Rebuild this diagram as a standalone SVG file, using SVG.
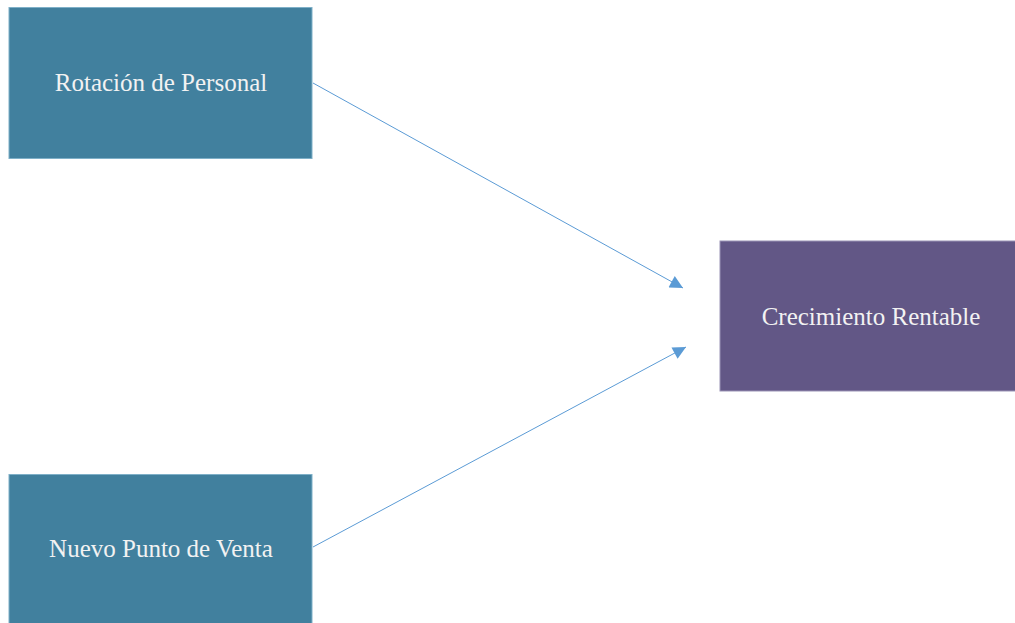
<svg xmlns="http://www.w3.org/2000/svg" width="1015" height="623" viewBox="0 0 1015 623">
<style>
.box{fill:#41809e;stroke:#7fb0c8;stroke-width:1}
.pbox{fill:#625786;stroke:#9a93b5;stroke-width:1}
.lbl{font-family:"Liberation Serif","Times New Roman",serif;font-size:25px;fill:#f2f2f2;text-anchor:middle}
.conn{stroke:#5b9bd5;stroke-width:1;fill:none}
</style>
<defs>
<marker id="ah" viewBox="0 0 10 10" refX="10" refY="5" markerWidth="15" markerHeight="13" markerUnits="userSpaceOnUse" orient="auto">
<path d="M0,0 L10,5 L0,10 Z" fill="#5b9bd5"/>
</marker>
</defs>
<rect width="1015" height="623" fill="#ffffff"/>
<g id="node-rotacion">
<rect class="box" x="9" y="7.5" width="303" height="151"/>
<text class="lbl" x="161" y="91">Rotación de Personal</text>
</g>
<g id="node-nuevo">
<rect class="box" x="9" y="474.5" width="303" height="152"/>
<text class="lbl" x="161" y="557">Nuevo Punto de Venta</text>
</g>
<g id="node-crecimiento">
<rect class="pbox" x="720" y="241" width="296" height="150"/>
<text class="lbl" x="871" y="325">Crecimiento Rentable</text>
</g>
<g id="connectors">
<line class="conn" x1="313" y1="83" x2="683" y2="288" marker-end="url(#ah)"/>
<line class="conn" x1="313" y1="547" x2="686" y2="347" marker-end="url(#ah)"/>
</g>
</svg>
